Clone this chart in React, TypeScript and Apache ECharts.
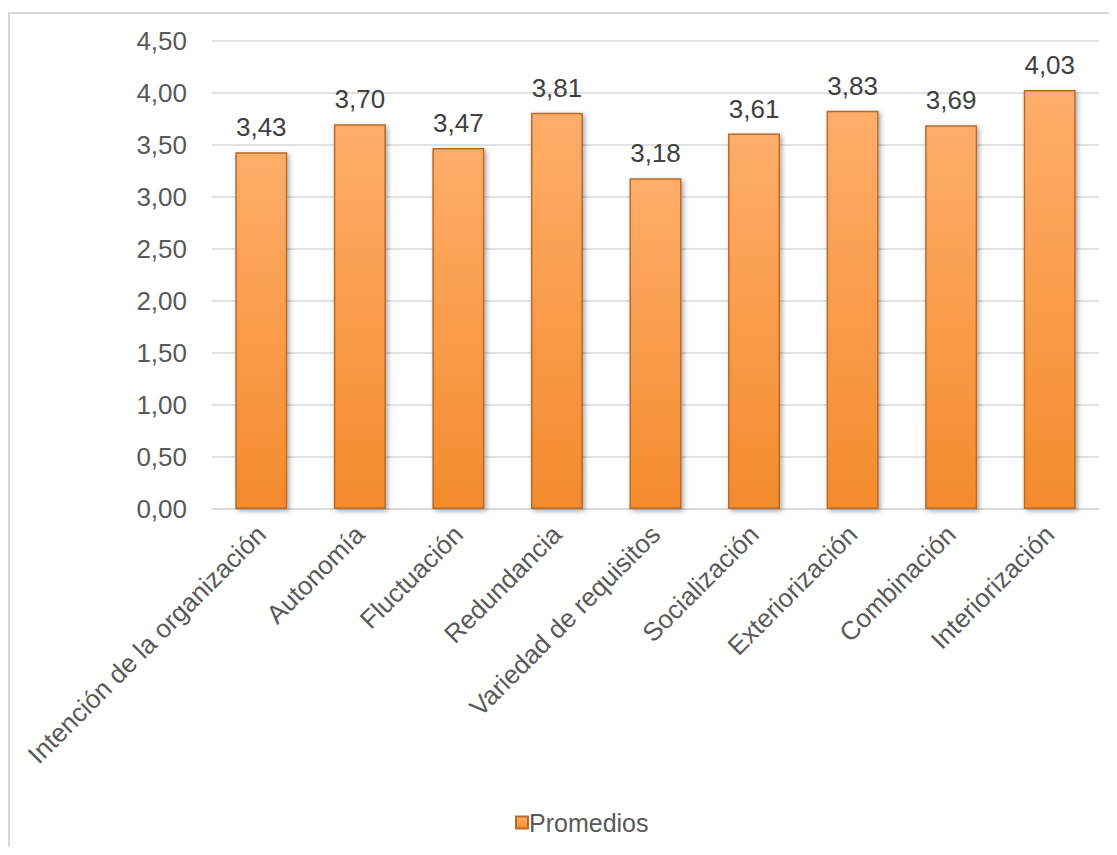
import React, { useEffect, useRef } from "react";
import * as echarts from "echarts";

const categories = [
  "Intención de la organización",
  "Autonomía",
  "Fluctuación",
  "Redundancia",
  "Variedad de requisitos",
  "Socialización",
  "Exteriorización",
  "Combinación",
  "Interiorización",
];
const promedios = [3.43, 3.7, 3.47, 3.81, 3.18, 3.61, 3.83, 3.69, 4.03];
const seriesName = "Promedios";

const fmt = (v: number) => v.toFixed(2).replace(".", ",");
const FONT = "'Liberation Sans', Arial, sans-serif";

export default function App() {
  const ref = useRef<HTMLDivElement>(null);
  useEffect(() => {
    if (!ref.current) return;
    const chart = echarts.init(ref.current, undefined, { renderer: "svg" });
    const barColor = new echarts.graphic.LinearGradient(0, 0, 0, 1, [
      { offset: 0, color: "#FFAD6A" },
      { offset: 1, color: "#F48B2C" },
    ]);
    chart.setOption({
      animation: false,
      textStyle: { fontFamily: FONT },
      graphic: [
        {
          type: "rect",
          shape: { x: 1, y: 5, width: 3000, height: 3000 },
          style: { fill: "none", stroke: "#D9D9D9", lineWidth: 2 },
          silent: true,
        },
      ],
      grid: { left: 204, top: 33, right: 10, height: 468 },
      legend: {
        data: [seriesName],
        left: 502,
        top: 797,
        icon: "rect",
        itemWidth: 12,
        itemHeight: 12,
        itemGap: 4,
        textStyle: { fontSize: 25, color: "#595959", fontFamily: FONT, padding: [0, 0, 0, -4] },
      },
      xAxis: {
        type: "category",
        data: categories,
        axisLine: { lineStyle: { color: "#D9D9D9", width: 1.5 } },
        axisTick: { show: false },
        axisLabel: {
          interval: 0,
          rotate: 45,
          fontSize: 26,
          color: "#595959",
          margin: 21,
          fontFamily: FONT,
        },
      },
      yAxis: {
        type: "value",
        min: 0,
        max: 4.5,
        interval: 0.5,
        axisLine: { show: false },
        axisTick: { show: false },
        splitLine: { lineStyle: { color: "#D9D9D9", width: 1.5 } },
        axisLabel: {
          formatter: (v: number) => fmt(v),
          fontSize: 26,
          color: "#595959",
          margin: 25,
          fontFamily: FONT,
        },
      },
      series: [
        {
          name: seriesName,
          type: "bar",
          data: promedios,
          barWidth: 52,
          itemStyle: {
            color: barColor,
            borderColor: "#B86A28",
            borderWidth: 1.5,
            shadowColor: "rgba(0,0,0,0.35)",
            shadowBlur: 5,
            shadowOffsetX: 2,
            shadowOffsetY: 2,
          },
          label: {
            show: true,
            position: "top",
            distance: 12,
            formatter: (p: any) => fmt(p.value),
            fontSize: 26,
            color: "#404040",
            fontFamily: FONT,
          },
        },
      ],
    });
    return () => chart.dispose();
  }, []);
  return <div ref={ref} style={{ width: 1101, height: 839 }} />;
}
